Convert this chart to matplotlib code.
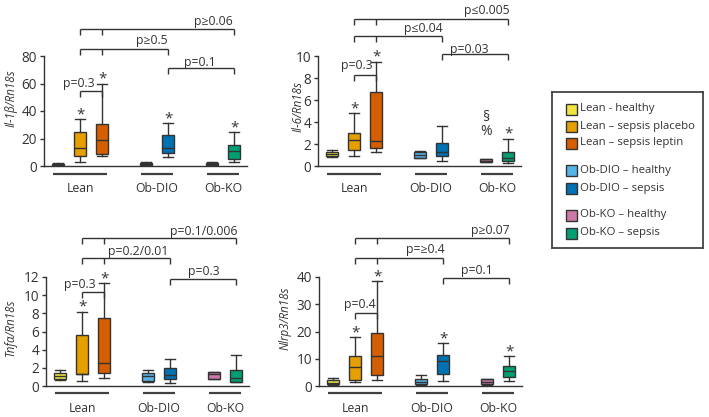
import matplotlib
matplotlib.use('Agg')
import matplotlib.pyplot as plt
from matplotlib.transforms import blended_transform_factory
from matplotlib.patches import Rectangle

plt.rcParams['font.family'] = ['Open Sans', 'DejaVu Sans']

# ---------------- data ----------------
series_labels = ['Lean - healthy', 'Lean \u2013 sepsis placebo', 'Lean \u2013 sepsis leptin',
                 'Ob-DIO \u2013 healthy', 'Ob-DIO \u2013 sepsis',
                 'Ob-KO \u2013 healthy', 'Ob-KO \u2013 sepsis']
series_colors = ['#F0E442', '#E69F00', '#D55E00', '#56B4E9', '#0072B2', '#CC79A7', '#009E73']
group_names = ['Lean', 'Ob-DIO', 'Ob-KO']

# Il-1b
il1b_whislo = [0.5, 3.0, 7.0, 0.6, 6.8, 0.6, 3.0]
il1b_q1     = [0.8, 7.5, 8.7, 0.8, 9.7, 0.8, 5.0]
il1b_med    = [1.2, 12.8, 19.0, 1.5, 13.3, 1.5, 11.0]
il1b_q3     = [1.8, 24.5, 30.5, 2.5, 22.5, 2.5, 15.3]
il1b_whishi = [2.0, 34.0, 60.0, 2.8, 31.0, 2.8, 24.5]

# Il-6
il6_whislo = [0.85, 0.92, 1.23, 0.70, 0.45, 0.35, 0.30]
il6_q1     = [0.90, 1.50, 1.60, 0.77, 0.90, 0.37, 0.43]
il6_med    = [1.10, 2.35, 2.30, 1.00, 1.30, 0.45, 0.73]
il6_q3     = [1.30, 3.00, 6.70, 1.28, 2.05, 0.60, 1.30]
il6_whishi = [1.50, 4.80, 9.50, 1.40, 3.60, 0.60, 2.50]

# Tnfa
tnf_whislo = [0.70, 0.55, 0.85, 0.47, 0.37, 0.77, 0.45]
tnf_q1     = [0.77, 1.28, 1.40, 0.58, 0.77, 0.77, 0.47]
tnf_med    = [1.13, 1.35, 2.57, 1.10, 1.20, 1.28, 0.90]
tnf_q3     = [1.40, 5.60, 7.45, 1.40, 1.95, 1.50, 1.75]
tnf_whishi = [1.80, 8.20, 11.3, 1.75, 3.00, 1.50, 3.40]

# Nlrp3
nlrp3_whislo = [0.4, 1.6, 2.2, 0.3, 1.8, 0.4, 1.8]
nlrp3_q1     = [0.6, 2.2, 4.0, 0.6, 4.3, 0.6, 3.4]
nlrp3_med    = [1.2, 7.1, 11.1, 1.6, 9.1, 1.3, 5.5]
nlrp3_q3     = [2.2, 11.1, 19.6, 2.6, 11.3, 2.4, 7.4]
nlrp3_whishi = [3.0, 18.0, 38.4, 4.0, 15.6, 2.7, 11.1]

il1b_stars = [1, 2, 4, 6]
il6_stars = [1, 2, 6]
tnf_stars = [1, 2]
nlrp3_stars = [1, 2, 4, 6]

il1b_pvals = ['p\u22650.06', 'p\u22650.5', 'p=0.1', 'p=0.3']
il6_pvals = ['p\u22640.005', 'p\u22640.04', 'p=0.03', 'p=0.3']
tnf_pvals = ['p=0.1/0.006', 'p=0.2/0.01', 'p=0.3', 'p=0.3']
nlrp3_pvals = ['p\u22650.07', 'p=\u22650.4', 'p=0.1', 'p=0.4']

# ---------------- layout ----------------
W, H = 709, 417
fig = plt.figure(figsize=(W / 100, H / 100), dpi=100)
positions = [0, 1, 2, 4, 5, 7, 8]
group_spans = [(0, 2), (4, 5), (7, 8)]
XL, XR = -0.64, 8.6
UNIT = 22.0
AXW = (XR - XL) * UNIT
DARK = '#333333'
FS = 8.3


def make_ax(spine_x, y_bottom, y_top):
    return fig.add_axes([spine_x / W, 1 - y_bottom / H, AXW / W, (y_bottom - y_top) / H])


def bracket(ax, x0, x1, y, ticks, drop):
    tr = blended_transform_factory(ax.transData, ax.transAxes)
    ax.plot([x0, x1], [y, y], color=DARK, lw=1.0, transform=tr, clip_on=False,
            solid_capstyle='butt')
    for t in ticks:
        ax.plot([t, t], [y, y - drop], color=DARK, lw=1.0, transform=tr, clip_on=False,
                solid_capstyle='butt')


def panel(spine_x, y_bottom, y_top, ymax, yticks, ylabel, ylab_x, ylab_y,
          whislo, q1, med, q3, whishi, stars, pvals, br, group_y, label_y):
    ax = make_ax(spine_x, y_bottom, y_top)
    stats = []
    for i in range(len(med)):
        stats.append(dict(whislo=whislo[i], q1=q1[i], med=med[i], q3=q3[i],
                          whishi=whishi[i], fliers=[]))
    bp = ax.bxp(stats, positions=positions, widths=0.52, patch_artist=True,
                showfliers=False, capwidths=0.45,
                boxprops=dict(edgecolor=DARK, linewidth=1.0),
                medianprops=dict(color=DARK, linewidth=1.0),
                whiskerprops=dict(color=DARK, linewidth=1.0),
                capprops=dict(color=DARK, linewidth=1.0))
    for patch, c in zip(bp['boxes'], series_colors):
        patch.set_facecolor(c)
    ax.set_xlim(XL, XR)
    ax.set_ylim(0, ymax)
    ax.set_yticks(yticks)
    ax.set_xticks([])
    for s in ['top', 'right']:
        ax.spines[s].set_visible(False)
    for s in ['left', 'bottom']:
        ax.spines[s].set_color(DARK)
        ax.spines[s].set_linewidth(1.0)
    ax.tick_params(axis='y', direction='out', length=3, width=1.0, color=DARK,
                   labelsize=FS + 1.5, labelcolor=DARK, pad=2)
    ax.patch.set_alpha(0)
    ax.text(ylab_x, ylab_y, ylabel, rotation=90, ha='center', va='center',
            style='italic', fontsize=FS, color=DARK, transform=ax.transAxes)
    # stars
    for i in stars:
        ax.annotate('*', (positions[i], whishi[i]), xytext=(0, 0.5), textcoords='offset points',
                    ha='center', va='baseline', fontsize=11, color=DARK)
    # group underlines and labels
    tr = blended_transform_factory(ax.transData, ax.transAxes)
    for (a, b), name in zip(group_spans, group_names):
        ax.plot([a - 0.23, b + 0.23], [group_y, group_y], color='#404040', lw=1.6,
                transform=tr, clip_on=False, solid_capstyle='butt')
        ax.text((a + b) / 2, label_y, name, ha='center', va='center', fontsize=FS + 0.5,
                color=DARK, transform=tr)
    # significance brackets
    for (x0, x1, y, ticks, tx, ty), lab in zip(br, pvals):
        bracket(ax, x0, x1, y, ticks, 0.055)
        ax.text(tx, ty, lab, ha='center', va='center', fontsize=FS + 0.5, color=DARK,
                transform=tr)
    return ax


br_tl = [(1, 8, 1.245, [1, 2, 8], 7.05, 1.31),
         (1, 5, 1.061, [1, 2, 5], 4.26, 1.139),
         (5, 8, 0.888, [5, 8], 6.45, 0.94),
         (1, 2, 0.685, [1, 2], 0.92, 0.752)]
br_tr = [(1, 8, 1.336, [1, 2, 8], 7.02, 1.418),
         (1, 5, 1.185, [1, 2, 5], 4.14, 1.252),
         (5, 8, 1.015, [5, 8], 6.23, 1.06),
         (1, 2, 0.827, [1, 2], 1.12, 0.912)]
br_bl = [(1, 8, 1.355, [1, 2, 8], 6.53, 1.422),
         (1, 5, 1.171, [1, 2, 5], 3.56, 1.232),
         (5, 8, 0.982, [5, 8], 6.53, 1.049),
         (1, 2, 0.865, [1, 2], 0.91, 0.927)]
br_br = [(1, 8, 1.361, [1, 2, 8], 7.14, 1.431),
         (1, 5, 1.171, [1, 2, 5], 4.18, 1.248),
         (5, 8, 0.994, [5, 8], 6.53, 1.058),
         (1, 2, 0.667, [1, 2], 1.23, 0.752)]

panel(44, 166, 56, 80, [0, 20, 40, 60, 80], 'Il-1\u03b2/Rn18s', -0.163, 0.62,
      il1b_whislo, il1b_q1, il1b_med, il1b_q3, il1b_whishi, il1b_stars, il1b_pvals, br_tl,
      -0.073, -0.209)
ax_tr = panel(318, 166, 56, 10, [0, 2, 4, 6, 8, 10], 'Il-6/Rn18s', -0.098, 0.54,
              il6_whislo, il6_q1, il6_med, il6_q3, il6_whishi, il6_stars, il6_pvals, br_tr,
              -0.073, -0.209)
ax_tr.annotate('%', (positions[5], il6_whishi[5]), xytext=(0, 20), textcoords='offset points',
               ha='center', va='center', fontsize=10, color=DARK)
ax_tr.annotate('\u00a7', (positions[5], il6_whishi[5]), xytext=(0, 30.5), textcoords='offset points',
               ha='center', va='center', fontsize=10, color=DARK)
panel(46, 386, 277, 12, [0, 2, 4, 6, 8, 10, 12], 'Tnf\u03b1/Rn18s', -0.177, 0.54,
      tnf_whislo, tnf_q1, tnf_med, tnf_q3, tnf_whishi, tnf_stars, tnf_pvals, br_bl,
      -0.064, -0.211)
panel(319, 386, 277, 40, [0, 10, 20, 30, 40], 'Nlrp3/Rn18s', -0.167, 0.62,
      nlrp3_whislo, nlrp3_q1, nlrp3_med, nlrp3_q3, nlrp3_whishi, nlrp3_stars, nlrp3_pvals, br_br,
      -0.064, -0.211)

# ---------------- legend ----------------
lx0, ly0, lx1, ly1 = 552, 92, 703, 248
lax = fig.add_axes([lx0 / W, 1 - ly1 / H, (lx1 - lx0) / W, (ly1 - ly0) / H])
lax.set_xlim(0, lx1 - lx0)
lax.set_ylim(ly1 - ly0, 0)
lax.set_xticks([])
lax.set_yticks([])
for s in lax.spines.values():
    s.set_color('#444444')
    s.set_linewidth(1.3)
row_y = [17, 34, 51, 78, 96, 123, 141]
for yy, lab, c in zip(row_y, series_labels, series_colors):
    lax.add_patch(Rectangle((14, yy - 5.5), 11, 11, facecolor=c, edgecolor=DARK, lw=1.0))
    lax.text(28, yy, lab, ha='left', va='center', fontsize=8.2, color=DARK)

fig.savefig('out.png', dpi=100)
